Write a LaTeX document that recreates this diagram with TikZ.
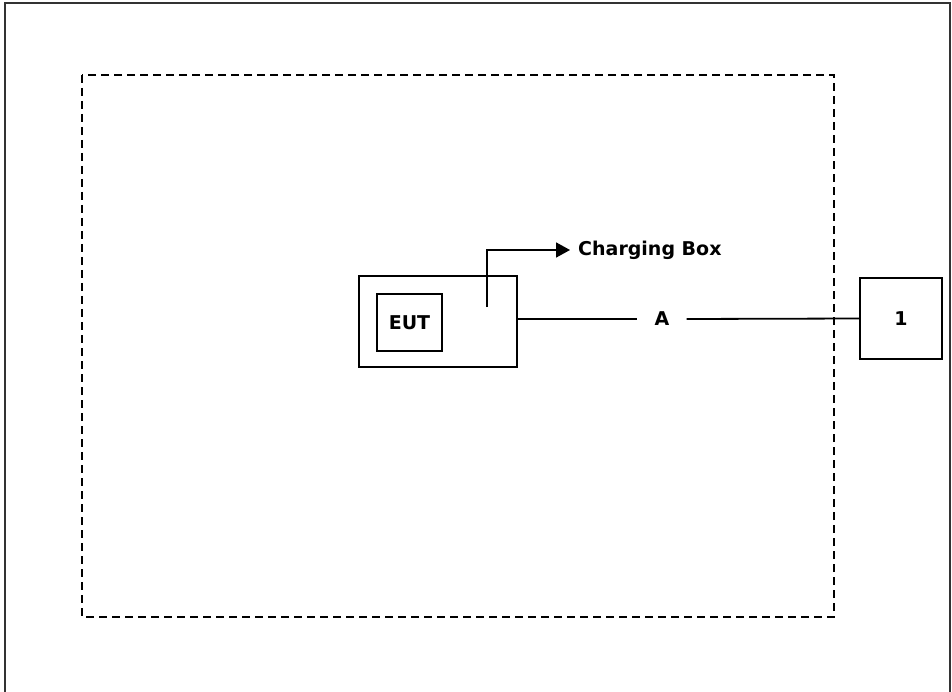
\documentclass[tikz,border=0pt]{standalone}
\usepackage{fontspec}
\setmainfont{DejaVu Sans}
\usetikzlibrary{arrows.meta}

\begin{document}
\begin{tikzpicture}[x=1pt,y=-1pt,
    box/.style={draw,line width=1.8pt,inner sep=0pt},
    lbl/.style={font=\bfseries\fontsize{19}{21}\selectfont}]
  \useasboundingbox (0,0) rectangle (952,692);
  % page frame and test area
  \draw[line width=2pt,black!80] (5,692) -- (5,3) -- (950,3) -- (950,692);
  \draw[line width=1.8pt,dash pattern=on 8pt off 5pt] (82,75) rectangle (834,617);

  \draw (438,321.5) node[box,minimum width=158pt,minimum height=91pt] (jig) {};
  \draw (409.5,322.5) node[box,minimum width=65pt,minimum height=57pt,lbl] (EUT) {EUT};
  \draw (901,318.5) node[box,minimum width=82pt,minimum height=81pt,lbl] (aux) {1};
  \draw (662,319) node[lbl,inner xsep=17pt] (A) {A};
  \draw (570,250) node[lbl,anchor=west,inner xsep=8pt] (chbox) {Charging Box};
  \coordinate (plug) at (487,307);

    \draw[line width=1.8pt,-{Triangle[length=14pt,width=15pt]}] (plug) |- (chbox.west);
    \draw[line width=1.8pt] (jig.east |- A.west) -- (A.west);
    \draw[line width=1.8pt] (A.east) -- (aux.west);
\end{tikzpicture}
\end{document}
